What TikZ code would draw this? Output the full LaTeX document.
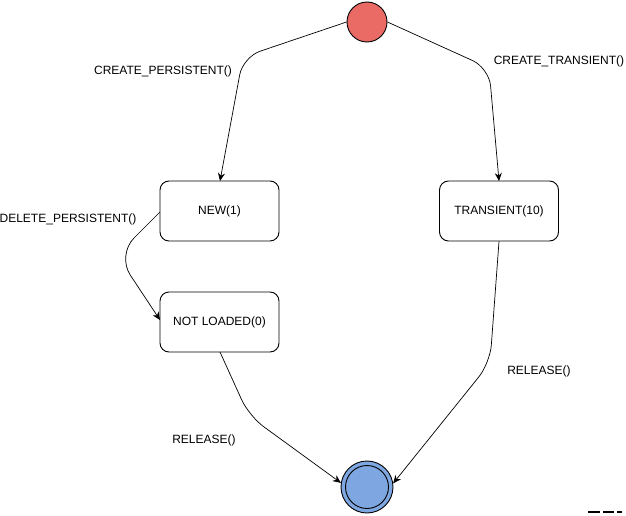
\documentclass[tikz,border=0pt]{standalone}
\usepackage{fontspec}
\setmainfont{Liberation Sans}
\usetikzlibrary{arrows.meta, positioning}
\definecolor{startred}{HTML}{EA6B66}
\definecolor{endblue}{HTML}{7EA6E0}
\tikzset{
  state/.style={
    rectangle, rounded corners=9pt, minimum width=119pt, minimum height=60pt,
    text centered, draw=black, fill=white, line width=0.9pt
  },
  initial/.style={
    circle, minimum size=40pt, inner sep=0pt, draw=black, fill=startred, line width=0.9pt
  },
  final/.style={
    circle, minimum size=52pt, inner sep=0pt, draw=black, fill=endblue, line width=0.9pt
  },
  trans/.style={
    -{Stealth[length=8pt,width=7pt]}, line width=0.7pt, color=black, rounded corners=18pt
  },
  lbl/.style={inner sep=0pt}
}

\begin{document}
\begin{tikzpicture}[x=1pt, y=-1pt, every node/.style={font=\fontsize{12}{14}\selectfont}]
      \useasboundingbox (0,0) rectangle (626,516);

      % States
      \node[initial] (start) at (367,22) {};
      \node[state] (new) at (219.5,211) {NEW(1)};
      \node[state] (transient) at (499,211) {TRANSIENT(10)};
      \node[state] (notloaded) at (219.5,322) {NOT LOADED(0)};
      \node[final] (end) at (367,487) {};
      \node[circle, minimum size=43pt, inner sep=0pt, draw=black, line width=0.9pt] (endin) at (end) {};

      % Transitions
      \draw[trans] (start.west) -- (243,57) -- (220,181);
      \node[lbl] (lcp) at (163,71) {CREATE\_PERSISTENT()};

      \draw[trans] (start.east) -- (489,68) -- (499,181);
      \node[lbl] (lct) at (559,61) {CREATE\_TRANSIENT()};

      \draw[trans, rounded corners=24pt] (160,212) -- (117,255) -- (160,320);
      \node[lbl] (ldp) at (68,219) {DELETE\_PERSISTENT()};

      \draw[trans] (220,352) -- (249,416) -- (end.171);
      \node[lbl] (lr1) at (204,440) {RELEASE()};

      \draw[trans] (transient.south) -- (490,363) -- (end.8);
      \node[lbl] (lr2) at (539,371) {RELEASE()};

      % Marks in the corner
      \draw[line width=2pt, dash pattern=on 12pt off 3pt on 11pt off 3pt on 6pt] (588,512) -- (622,512);
    \end{tikzpicture}
\end{document}
